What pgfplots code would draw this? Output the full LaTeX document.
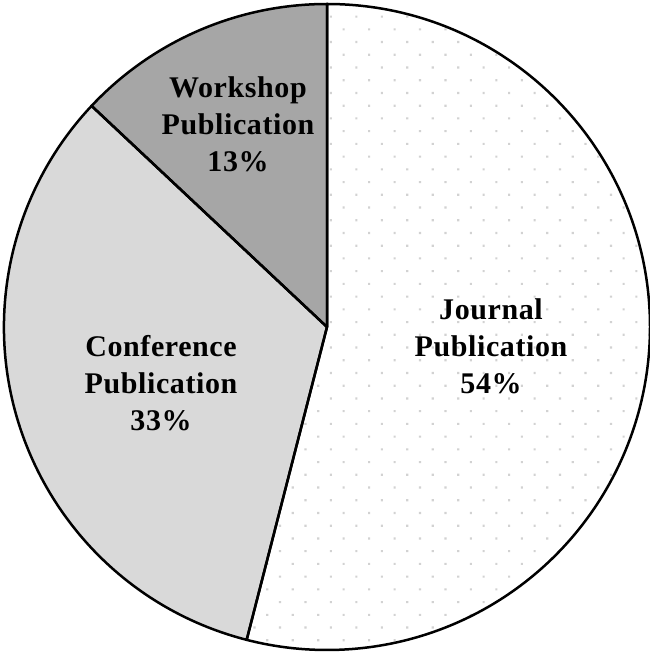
\documentclass[border=0pt]{standalone}
\usepackage{pgfplots}
\pgfplotsset{compat=1.18}
\usepackage{pgfplotstable}
\usepackage{fontspec}
\setmainfont{Liberation Serif}
\usetikzlibrary{patterns.meta}
\definecolor{confgray}{HTML}{D9D9D9}
\definecolor{workgray}{HTML}{A6A6A6}
\definecolor{dotgray}{HTML}{D2D2D2}
\pgfplotstableread{
name value
Journal 54
Conference 33
Workshop 13
}\piedata
\begin{document}
\begin{tikzpicture}
\pgfplotstablegetelem{0}{value}\of\piedata \edef\vJ{\pgfplotsretval}
\pgfplotstablegetelem{1}{value}\of\piedata \edef\vC{\pgfplotsretval}
\pgfplotstablegetelem{2}{value}\of\piedata \edef\vW{\pgfplotsretval}
\pgfmathsetmacro{\aA}{90}
\pgfmathsetmacro{\aB}{90-3.6*\vJ}
\pgfmathsetmacro{\aC}{\aB-3.6*\vC}
\pgfmathsetmacro{\aD}{\aC-3.6*\vW}
\begin{axis}[
  width=649pt, height=653pt, scale only axis,
  xmin=0, xmax=649, ymin=0, ymax=653,
  hide axis, clip=false,
]
\coordinate (bl) at (axis cs:0,0);
\coordinate (tr) at (axis cs:649,653);
\def\cx{327}\def\cy{326}\def\R{323}
% Journal
\fill[white] (axis cs:\cx,\cy) -- ++(\aA:\R pt) arc[start angle=\aA, end angle=\aB, radius=\R pt] -- cycle;
\fill[pattern={Dots[radius=1.5pt, distance=18pt, angle=45]}, pattern color=dotgray] (axis cs:\cx,\cy) -- ++(\aA:\R pt) arc[start angle=\aA, end angle=\aB, radius=\R pt] -- cycle;
% Conference
\fill[confgray] (axis cs:\cx,\cy) -- ++(\aB:\R pt) arc[start angle=\aB, end angle=\aC, radius=\R pt] -- cycle;
% Workshop
\fill[workgray] (axis cs:\cx,\cy) -- ++(\aC:\R pt) arc[start angle=\aC, end angle=\aD, radius=\R pt] -- cycle;
% outlines
\draw[line width=2.5pt, line join=round] (axis cs:\cx,\cy) -- ++(\aA:\R pt) arc[start angle=\aA, end angle=\aB, radius=\R pt] -- cycle;
\draw[line width=2.5pt, line join=round] (axis cs:\cx,\cy) -- ++(\aB:\R pt) arc[start angle=\aB, end angle=\aC, radius=\R pt] -- cycle;
\draw[line width=2.5pt, line join=round] (axis cs:\cx,\cy) -- ++(\aC:\R pt) arc[start angle=\aC, end angle=\aD, radius=\R pt] -- cycle;
\tikzset{lbl/.style={align=center, font=\fontsize{30}{37}\selectfont\bfseries\addfontfeature{LetterSpace=2}}}
\node[lbl] at (axis cs:491,307) {Journal\\Publication\\\vJ\%};
\node[lbl] at (axis cs:161,270) {Conference\\Publication\\\vC\%};
\node[lbl] at (axis cs:238,529) {Workshop\\Publication\\\vW\%};
\end{axis}
\pgfresetboundingbox
\path (bl) rectangle (tr);
\end{tikzpicture}
\end{document}
